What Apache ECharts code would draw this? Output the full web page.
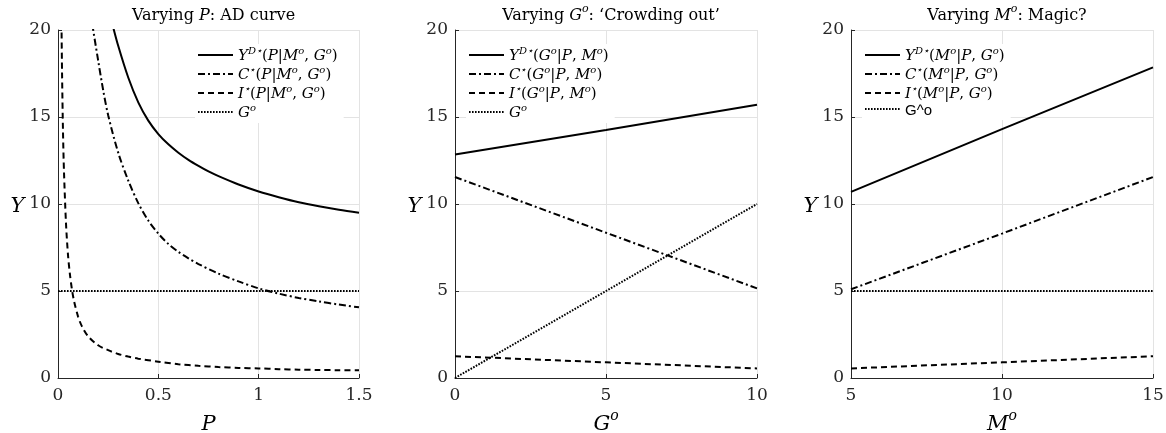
<!DOCTYPE html>
<html>
<head>
<meta charset="utf-8">
<script src="https://cdn.jsdelivr.net/npm/echarts@6/dist/echarts.min.js"></script>
<style>
  html, body { margin: 0; padding: 0; background: #fff; }
  #chart { width: 1166px; height: 433px; }
</style>
</head>
<body>
<div id="chart"></div>
<script>
// panel 1: varying P
const pY = [0.27, 0.3, 0.35, 0.4, 0.45, 0.5, 0.55, 0.6, 0.65, 0.7, 0.75, 0.8, 0.9, 1.0, 1.1, 1.2, 1.3, 1.4, 1.5]
const yOfP = [20.38, 19.09, 17.27, 15.84, 14.79, 14.02, 13.43, 12.95, 12.54, 12.19, 11.87, 11.6, 11.12, 10.72, 10.39, 10.1, 9.87, 9.67, 9.5]
const pC = [0.16, 0.17, 0.2, 0.225, 0.25, 0.3, 0.35, 0.4, 0.45, 0.5, 0.55, 0.6, 0.65, 0.7, 0.8, 0.9, 1.0, 1.1, 1.2, 1.3, 1.4, 1.5]
const cOfP = [21.2, 20.4, 18.25, 16.55, 15.1, 12.95, 11.35, 10.05, 9.05, 8.3, 7.7, 7.25, 6.88, 6.55, 6.0, 5.55, 5.15, 4.85, 4.6, 4.4, 4.22, 4.06]
const pI = [0.017, 0.02, 0.025, 0.03, 0.04, 0.05, 0.06, 0.07, 0.08, 0.1, 0.12, 0.15, 0.2, 0.25, 0.3, 0.35, 0.4, 0.5, 0.6, 0.7, 0.8, 0.9, 1.0, 1.1, 1.2, 1.3, 1.4, 1.5]
const iOfP = [21, 17.7, 14.1, 11.8, 8.85, 7.05, 5.9, 5.05, 4.42, 3.53, 2.95, 2.4, 1.88, 1.6, 1.38, 1.23, 1.11, 0.94, 0.79, 0.7, 0.63, 0.58, 0.55, 0.51, 0.48, 0.46, 0.45, 0.44]
const pG = [0, 1.5]
const gOfP = [5, 5]

// panel 2: varying G^o
const gVals = [0, 5, 10]
const yOfG = [12.85, 14.25, 15.7]
const cOfG = [11.55, 8.35, 5.15]
const iOfG = [1.25, 0.9, 0.55]
const gOfG = [0, 5, 10]

// panel 3: varying M^o
const mVals = [5, 10, 15]
const yOfM = [10.7, 14.3, 17.85]
const cOfM = [5.1, 8.3, 11.55]
const iOfM = [0.55, 0.9, 1.25]
const gOfM = [5, 5, 5]

// axis ranges
const yRange = [0, 20, 5]
const xRanges = [[0, 1.5, 0.5], [0, 10, 5], [5, 15, 5]]

const zip = (xs, ys) => xs.map((x, k) => [x, ys[k]])

const FONT = '"DejaVu Serif", "Liberation Serif", serif'
const SANS = '"Liberation Sans", "DejaVu Sans", sans-serif'
const INK = '#262626'

// rich text styles: italic, superscript, normal
function mkRich (size, supSize, lh) {
  return {
    i: { fontStyle: 'italic', fontWeight: 'normal', fontFamily: FONT, fontSize: size, color: '#000', verticalAlign: 'bottom', lineHeight: lh },
    sup: { fontStyle: 'italic', fontWeight: 'normal', fontFamily: FONT, fontSize: supSize, color: '#000', verticalAlign: 'top', lineHeight: lh },
    n: { fontWeight: 'normal', fontFamily: FONT, fontSize: size, color: '#000', verticalAlign: 'bottom', lineHeight: lh },
    s: { fontWeight: 'normal', fontFamily: SANS, fontSize: size, color: '#000', verticalAlign: 'bottom', lineHeight: lh },
  }
}

const labels = {
  Y1: '{i|Y}{sup|D⋆}{n|(}{i|P}{n||}{i|M}{sup|o}{n|, }{i|G}{sup|o}{n|)}',
  C1: '{i|C}{sup|⋆}{n|(}{i|P}{n||}{i|M}{sup|o}{n|, }{i|G}{sup|o}{n|)}',
  I1: '{i|I}{sup|⋆}{n|(}{i|P}{n||}{i|M}{sup|o}{n|, }{i|G}{sup|o}{n|)}',
  G1: '{i|G}{sup|o}',
  Y2: '{i|Y}{sup|D⋆}{n|(}{i|G}{sup|o}{n||}{i|P}{n|, }{i|M}{sup|o}{n|)}',
  C2: '{i|C}{sup|⋆}{n|(}{i|G}{sup|o}{n||}{i|P}{n|, }{i|M}{sup|o}{n|)}',
  I2: '{i|I}{sup|⋆}{n|(}{i|G}{sup|o}{n||}{i|P}{n|, }{i|M}{sup|o}{n|)}',
  G2: '{i|G}{sup|o}',
  Y3: '{i|Y}{sup|D⋆}{n|(}{i|M}{sup|o}{n||}{i|P}{n|, }{i|G}{sup|o}{n|)}',
  C3: '{i|C}{sup|⋆}{n|(}{i|M}{sup|o}{n||}{i|P}{n|, }{i|G}{sup|o}{n|)}',
  I3: '{i|I}{sup|⋆}{n|(}{i|M}{sup|o}{n||}{i|P}{n|, }{i|G}{sup|o}{n|)}',
  G3: '{s|G^o}',
}

const grids = [
  { left: 58, right: 807, top: 30, bottom: 55, outerBoundsMode: 'none' },
  { left: 455, right: 409, top: 30, bottom: 55, outerBoundsMode: 'none' },
  { left: 851, right: 13, top: 30, bottom: 55, outerBoundsMode: 'none' },
]
const centers = [208.5, 606, 1002]

const titles = [
  '{n|Varying }{i|P}{n|: AD curve}',
  '{n|Varying }{i|G}{sup|o}{n|: ‘Crowding out’}',
  '{n|Varying }{i|M}{sup|o}{n|: Magic?}',
]
const xNames = ['{i|P}', '{i|G}{sup|o}', '{i|M}{sup|o}']

const styles = {
  Y: 'solid',
  C: [7, 3, 2, 3],
  I: [6, 4],
  G: [1.6, 1.4],
}

function mkSeries (name, idx, data, smooth) {
  return {
    name: name,
    type: 'line',
    xAxisIndex: idx,
    yAxisIndex: idx,
    data: data,
    symbol: 'none',
    smooth: smooth ? 0.3 : false,
    lineStyle: { color: '#000', width: 2, type: styles[name[0]] },
    itemStyle: { color: '#000' },
  }
}

const series = [
  mkSeries('Y1', 0, zip(pY, yOfP), true),
  mkSeries('C1', 0, zip(pC, cOfP), true),
  mkSeries('I1', 0, zip(pI, iOfP), true),
  mkSeries('G1', 0, zip(pG, gOfP)),
  mkSeries('Y2', 1, zip(gVals, yOfG)),
  mkSeries('C2', 1, zip(gVals, cOfG)),
  mkSeries('I2', 1, zip(gVals, iOfG)),
  mkSeries('G2', 1, zip(gVals, gOfG)),
  mkSeries('Y3', 2, zip(mVals, yOfM)),
  mkSeries('C3', 2, zip(mVals, cOfM)),
  mkSeries('I3', 2, zip(mVals, iOfM)),
  mkSeries('G3', 2, zip(mVals, gOfM)),
]

const legendLefts = [195, 466, 862]

const option = {
  backgroundColor: '#fff',
  animation: false,
  title: titles.map((t, k) => ({
    text: t,
    left: centers[k],
    top: -1,
    textAlign: 'center',
    textStyle: { fontWeight: 'normal', rich: mkRich(16, 11, 20) },
  })),
  grid: grids,
  legend: [0, 1, 2].map(k => ({
    data: ['Y', 'C', 'I', 'G'].map(s => s + (k + 1)),
    orient: 'vertical',
    left: legendLefts[k],
    top: 44,
    itemWidth: 35,
    itemHeight: 14,
    itemGap: 1,
    padding: [2, 6, 2, 2],
    backgroundColor: '#fff',
    selectedMode: false,
    itemStyle: { opacity: 0 },
    formatter: name => labels[name],
    textStyle: { rich: mkRich(15, 10, 18) },
  })),
  xAxis: xRanges.map((r, k) => ({
    type: 'value',
    gridIndex: k,
    min: r[0],
    max: r[1],
    interval: r[2],
    name: xNames[k],
    nameLocation: 'middle',
    nameGap: 31,
    nameTextStyle: { rich: mkRich(21, 14, 26) },
    axisLine: { show: true, onZero: false, lineStyle: { color: INK, width: 1 } },
    axisTick: { show: true, inside: true, length: 4, lineStyle: { color: INK } },
    axisLabel: { color: INK, fontFamily: FONT, fontSize: 17, margin: 9 },
    splitLine: { show: true, lineStyle: { color: '#e3e3e3', width: 1 } },
  })),
  yAxis: [0, 1, 2].map(k => ({
    type: 'value',
    gridIndex: k,
    min: yRange[0],
    max: yRange[1],
    interval: yRange[2],
    name: '{i|Y}',
    nameLocation: 'middle',
    nameRotate: 0,
    nameGap: 29,
    nameTextStyle: { rich: mkRich(21, 14, 26) },
    axisLine: { show: true, onZero: false, lineStyle: { color: INK, width: 1 } },
    axisTick: { show: true, inside: true, length: 4, lineStyle: { color: INK } },
    axisLabel: { color: INK, fontFamily: FONT, fontSize: 17, margin: 7 },
    splitLine: { show: true, lineStyle: { color: '#e3e3e3', width: 1 } },
  })),
  series: series,
}

const chart = echarts.init(document.getElementById('chart'), null, { renderer: 'canvas' })
chart.setOption(option)
</script>
</body>
</html>
